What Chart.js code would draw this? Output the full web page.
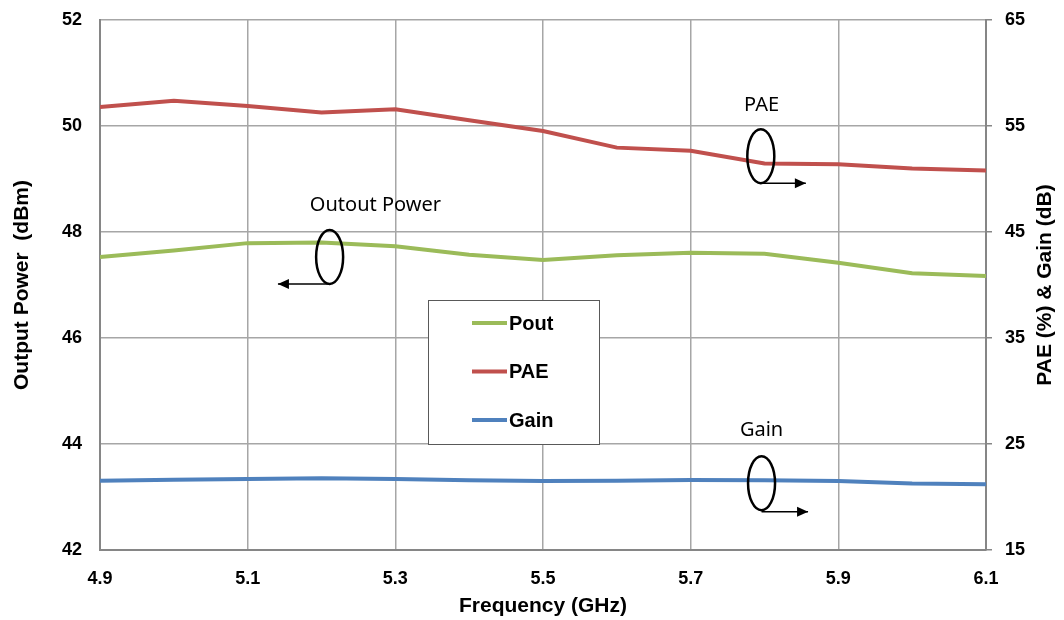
<!DOCTYPE html>
<html>
<head>
<meta charset="utf-8">
<script src="https://cdn.jsdelivr.net/npm/chart.js@4"></script>
<style>
  body { margin: 0; background: #fff; }
  #wrap { width: 1064px; height: 620px; }
</style>
</head>
<body>
<div id="wrap"><canvas id="chart" width="1064" height="620"></canvas></div>
<script>
// data
const freqs = [4.9, 5.0, 5.1, 5.2, 5.3, 5.4, 5.5, 5.6, 5.7, 5.8, 5.9, 6.0, 6.1];
const pout  = [47.53, 47.65, 47.79, 47.80, 47.73, 47.57, 47.47, 47.56, 47.61, 47.59, 47.42, 47.22, 47.17];
const pae   = [56.80, 57.37, 56.89, 56.27, 56.58, 55.54, 54.53, 52.96, 52.67, 51.47, 51.40, 51.00, 50.81];
const gain  = [21.53, 21.63, 21.69, 21.78, 21.69, 21.58, 21.50, 21.53, 21.60, 21.57, 21.50, 21.27, 21.20];
const xTicks = [4.9, 5.1, 5.3, 5.5, 5.7, 5.9, 6.1];
const seriesNames = ['Pout', 'PAE', 'Gain'];
const colors = ['#9BBB59', '#C0504D', '#4F81BD'];

const pts = arr => arr.map((v, i) => ({ x: freqs[i], y: v }));

const tickFont = { family: 'Arial, "Liberation Sans", sans-serif', size: 18, weight: 'bold' };

// custom legend box inside the plot
const legendBox = {
  id: 'legendBox',
  afterDatasetsDraw(chart) {
    const { ctx, chartArea } = chart;
    const x0 = chartArea.left + 328, y0 = chartArea.top + 280;
    ctx.save();
    ctx.fillStyle = '#fff';
    ctx.fillRect(x0, y0, 171, 144);
    ctx.strokeStyle = '#595959';
    ctx.lineWidth = 1;
    ctx.strokeRect(x0 + 0.5, y0 + 0.5, 171, 144);
    ctx.font = 'bold 20px Arial, "Liberation Sans", sans-serif';
    ctx.textBaseline = 'middle';
    chart.data.datasets.forEach((ds, i) => {
      const y = y0 + 23 + i * 48.5;
      ctx.strokeStyle = ds.borderColor;
      ctx.lineWidth = 4;
      ctx.beginPath();
      ctx.moveTo(x0 + 44, y);
      ctx.lineTo(x0 + 79, y);
      ctx.stroke();
      ctx.fillStyle = '#000';
      ctx.fillText(ds.label, x0 + 81, y + 1);
    });
    ctx.restore();
  }
};

// ellipse + arrow callouts
const callouts = [
  { text: 'Outout Power', tx: 5.273, ty: 48.51, ex: 5.211, ey: 47.53, ay: 47.02, ax2: 5.141 },
  { text: 'PAE',          tx: 5.796, ty: 50.39, ex: 5.795, ey: 49.43, ay: 48.92, ax2: 5.856 },
  { text: 'Gain',         tx: 5.796, ty: 44.26, ex: 5.796, ey: 43.26, ay: 42.72, ax2: 5.859 }
];

const calloutPlugin = {
  id: 'callouts',
  afterDatasetsDraw(chart) {
    const { ctx } = chart;
    const xs = chart.scales.x, ys = chart.scales.y;
    ctx.save();
    callouts.forEach(c => {
      const ex = xs.getPixelForValue(c.ex), ey = ys.getPixelForValue(c.ey);
      const ay = ys.getPixelForValue(c.ay), ax2 = xs.getPixelForValue(c.ax2);
      ctx.fillStyle = '#000';
      ctx.font = '20px "Noto Sans", "Open Sans", sans-serif';
      ctx.textAlign = 'center';
      ctx.textBaseline = 'middle';
      ctx.fillText(c.text, xs.getPixelForValue(c.tx), ys.getPixelForValue(c.ty));
      ctx.strokeStyle = '#000';
      ctx.lineWidth = 2.5;
      ctx.beginPath();
      ctx.ellipse(ex, ey, 13.5, 27, 0, 0, Math.PI * 2);
      ctx.stroke();
      ctx.lineWidth = 1.5;
      ctx.beginPath();
      ctx.moveTo(ex, ay);
      ctx.lineTo(ax2, ay);
      ctx.stroke();
      const dir = ax2 > ex ? 1 : -1;
      ctx.beginPath();
      ctx.moveTo(ax2, ay);
      ctx.lineTo(ax2 - dir * 11, ay - 5);
      ctx.lineTo(ax2 - dir * 11, ay + 5);
      ctx.closePath();
      ctx.fill();
    });
    ctx.restore();
  }
};

// axis titles (right one reads bottom to top)
const axisTitles = {
  id: 'axisTitles',
  afterDraw(chart) {
    const { ctx, chartArea } = chart;
    const midY = (chartArea.top + chartArea.bottom) / 2;
    ctx.save();
    ctx.fillStyle = '#000';
    ctx.font = 'bold 21px Arial, "Liberation Sans", sans-serif';
    ctx.textAlign = 'center';
    ctx.textBaseline = 'middle';
    ctx.fillText('Frequency (GHz)', (chartArea.left + chartArea.right) / 2, 606);
    ctx.translate(22, midY);
    ctx.rotate(-Math.PI / 2);
    ctx.fillText('Output Power  (dBm)', 0, 0);
    ctx.restore();
    ctx.save();
    ctx.fillStyle = '#000';
    ctx.font = 'bold 21px Arial, "Liberation Sans", sans-serif';
    ctx.textAlign = 'center';
    ctx.textBaseline = 'middle';
    ctx.translate(1045, midY);
    ctx.rotate(-Math.PI / 2);
    ctx.fillText('PAE (%) & Gain (dB)', 0, 0);
    ctx.restore();
  }
};

const fitY = w => s => { s.width = w; s.paddingTop = 0; s.paddingBottom = 0; };

new Chart(document.getElementById('chart').getContext('2d'), {
  type: 'line',
  data: {
    datasets: [
      { label: seriesNames[0], data: pts(pout), yAxisID: 'y',  borderColor: colors[0] },
      { label: seriesNames[1], data: pts(pae),  yAxisID: 'y1', borderColor: colors[1] },
      { label: seriesNames[2], data: pts(gain), yAxisID: 'y1', borderColor: colors[2] }
    ]
  },
  options: {
    responsive: false,
    animation: false,
    layout: { padding: { top: 20 } },
    elements: {
      line: { borderWidth: 4, tension: 0, borderCapStyle: 'round' },
      point: { radius: 0 }
    },
    plugins: { legend: { display: false }, tooltip: { enabled: false } },
    scales: {
      x: {
        type: 'linear',
        min: 4.9, max: 6.1,
        afterBuildTicks: axis => { axis.ticks = xTicks.map(v => ({ value: v })); },
        afterFit: s => { s.height = 70; s.paddingLeft = 0; s.paddingRight = 0; },
        grid: { color: '#a6a6a6', lineWidth: 1.5, drawTicks: false },
        border: { color: '#868686', width: 2 },
        ticks: { font: tickFont, color: '#000', padding: 18, maxRotation: 0,
                 callback: v => v.toFixed(1) }
      },
      y: {
        position: 'left',
        min: 42, max: 52,
        afterFit: fitY(100),
        grid: { color: '#a6a6a6', lineWidth: 1.5, drawTicks: false },
        border: { color: '#868686', width: 2 },
        ticks: { stepSize: 2, font: tickFont, color: '#000', padding: 18 }
      },
      y1: {
        position: 'right',
        min: 15, max: 65,
        afterFit: fitY(78),
        grid: { drawOnChartArea: false, drawTicks: true, tickLength: 6, color: '#868686', lineWidth: 1.5 },
        border: { color: '#868686', width: 2 },
        ticks: { stepSize: 10, font: tickFont, color: '#000', padding: 13 }
      }
    }
  },
  plugins: [legendBox, calloutPlugin, axisTitles]
});
</script>
</body>
</html>
